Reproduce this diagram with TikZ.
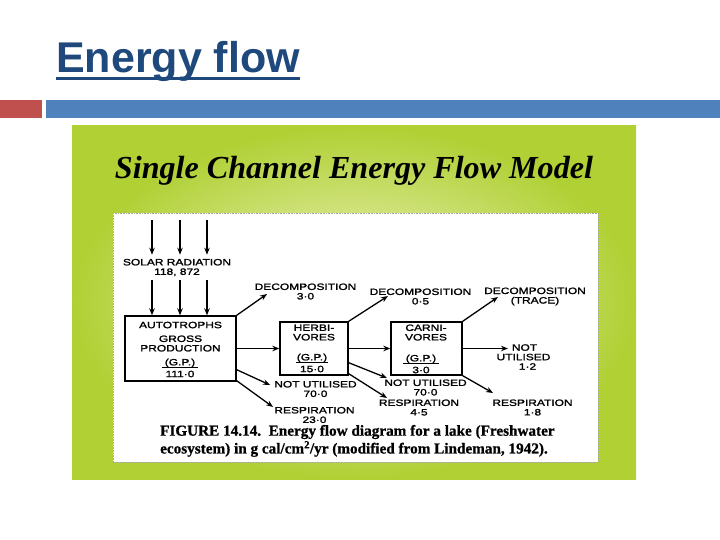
\documentclass[tikz,border=0pt]{standalone}
\usepackage{fontspec}
\setmainfont{Liberation Sans}
\newfontfamily\titlefont{Liberation Sans}
\newfontfamily\subfont{Liberation Serif}
\newfontfamily\diagfont[FakeStretch=1.3,FakeBold=1.6]{Liberation Sans}
\newfontfamily\capfont[FakeBold=0.8]{Liberation Serif}
\usetikzlibrary{arrows.meta}
\definecolor{titleblue}{RGB}{31,73,125}
\definecolor{barred}{RGB}{192,80,77}
\definecolor{barblue}{RGB}{79,129,189}
\definecolor{lime}{RGB}{176,208,52}
\definecolor{limelight}{RGB}{240,245,198}
\tikzset{
  lbl/.style={font=\diagfont\fontsize{9.2}{9.5}\selectfont, inner sep=0pt, align=center},
  boxnode/.style={draw, line width=1.4pt, inner sep=0pt},
  arr/.style={line width=1.3pt, -{Stealth[length=7pt,width=5.5pt]}},
  fracline/.style={line width=1pt}
}
\begin{document}
\begin{tikzpicture}[x=1pt,y=-1pt]
\useasboundingbox (0,0) rectangle (720,540);
\fill[white] (0,0) rectangle (720,540);
% title
\node[anchor=base west, text=titleblue, inner sep=0pt] (title) at (56,73)
  {\titlefont\bfseries\fontsize{43}{43}\selectfont Energy flow};
\draw[titleblue, line width=2.5pt] ([yshift=-5.5pt]title.base west) -- ([yshift=-5.5pt]title.base east);
% bars
\fill[barred] (0,100) rectangle (42,118);
\fill[barblue] (46,100) rectangle (720,118);
% green panel
\shade[inner color=limelight, outer color=lime] (72,126) rectangle (636,479);
\node (sub) at (354,171) {\resizebox{478pt}{!}{\subfont\bfseries\itshape\fontsize{27}{27}\selectfont Single Channel Energy Flow Model}};
% white figure
\fill[white] (113,213) rectangle (598,462);
\draw[gray!70, densely dotted, line width=0.6pt] (113,213) rectangle (598,462);
% boxes
\node[boxnode, minimum width=111pt, minimum height=65pt] (auto) at (180.5,348.5) {};
\node[boxnode, minimum width=68pt, minimum height=53pt] (herb) at (314,348.5) {};
\node[boxnode, minimum width=71pt, minimum height=53pt] (carn) at (426.5,348.5) {};
% box texts
\node[lbl] (autot) at (180.5,325) {AUTOTROPHS};
\node[lbl] (autog) at (180.5,343.5) {GROSS\\PRODUCTION};
\node[lbl] (gpa) at (180,363) {(G.P.)};
\node[lbl] (gpav) at (180,374) {111·0};
\draw[fracline] ([xshift=-3pt]gpa.south west) -- ([xshift=3pt]gpa.south east);
\node[lbl] (herbt) at (314,332.5) {HERBI-\\VORES};
\node[lbl] (gph) at (312,358) {(G.P.)};
\node[lbl] (gphv) at (312,369) {15·0};
\draw[fracline] ([xshift=-1pt]gph.south west) -- ([xshift=1pt]gph.south east);
\node[lbl] (carnt) at (426,332.5) {CARNI-\\VORES};
\node[lbl] (gpc) at (421,359) {(G.P.)};
\node[lbl] (gpcv) at (421,370) {3·0};
\draw[fracline] ([xshift=-3pt]gpc.south west) -- ([xshift=3pt]gpc.south east);
% labels
\node[lbl] (solar) at (177,267.5) {SOLAR RADIATION\\118, 872};
\node[lbl] (dec1) at (305.5,291.5) {DECOMPOSITION\\3·0};
\node[lbl] (nu1) at (315.5,389) {NOT UTILISED\\70·0};
\node[lbl] (resp1) at (314.5,415) {RESPIRATION\\23·0};
\node[lbl] (dec2) at (420.5,296.5) {DECOMPOSITION\\0·5};
\node[lbl] (dec3) at (535,296.5) {DECOMPOSITION\\(TRACE)};
\node[lbl] (nu2) at (425.5,387.5) {NOT UTILISED\\70·0};
\node[lbl] (resp2) at (419,407.5) {RESPIRATION\\4·5};
\node[lbl] (resp3) at (532.5,407.5) {RESPIRATION\\1·8};
\node[lbl] (nu3) at (523.5,357) {\hspace*{2pt}NOT\\UTILISED\\\hspace*{8pt}1·2};
% caption
\node[anchor=west, inner sep=0pt] (cap1) at (160,432) {\capfont\bfseries\fontsize{15.2}{17}\selectfont FIGURE 14.14.\ \ Energy flow diagram for a lake (Freshwater};
\node[anchor=west, inner sep=0pt] (cap2) at (160,449) {\capfont\bfseries\fontsize{15.2}{17}\selectfont ecosystem) in g cal/cm\textsuperscript{2}/yr (modified from Lindeman, 1942).};
% solar arrows
\foreach \i/\x in {1/152,2/180,3/207}{
  \coordinate (r\i) at (\x,220);
  \draw[arr] (r\i) -- ([yshift=4pt]r\i |- solar.north);
  \draw[arr] ([yshift=-4pt]r\i |- solar.south) -- (r\i |- auto.north);
}
% arrow tips
\coordinate (d1tip) at (267,294);
\coordinate (d2tip) at (388,296);
\coordinate (d3tip) at (498,297);
\coordinate (nu1tip) at (270,385);
\coordinate (r1tip) at (273,407);
\coordinate (nu2tip) at (387,378);
\coordinate (r2tip) at (387,398);
\coordinate (nu3tip) at (508,348.5);
\coordinate (r3tip) at (493,393);
% connectors
\draw[arr] (auto.north east) -- (d1tip);
\draw[arr] (auto.east) -- (herb.west);
\draw[arr] ([yshift=12pt]auto.south east) -- (nu1tip);
\draw[arr] ([yshift=1pt]auto.south east) -- (r1tip);
\draw[arr] (herb.north east) -- (d2tip);
\draw[arr] (herb.east) -- (carn.west);
\draw[arr] ([yshift=13pt]herb.south east) -- (nu2tip);
\draw[arr] ([yshift=2pt]herb.south east) -- (r2tip);
\draw[arr] (carn.north east) -- (d3tip);
\draw[arr] (carn.east) -- (nu3tip);
\draw[arr] (carn.south east) -- (r3tip);
\end{tikzpicture}
\end{document}
